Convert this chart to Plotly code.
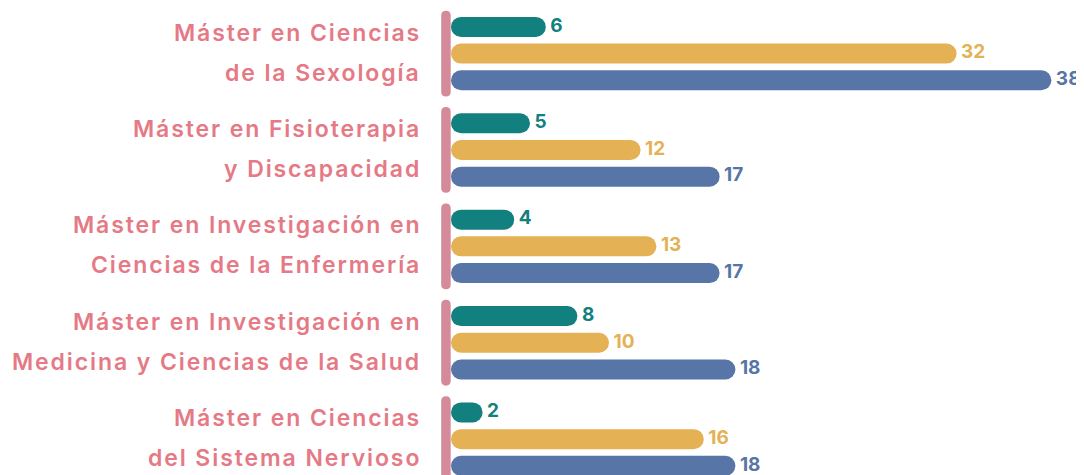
import plotly.graph_objects as go

# ---- data ----
cat_line1 = ["Máster en Ciencias", "Máster en Fisioterapia", "Máster en Investigación en",
             "Máster en Investigación en", "Máster en Ciencias"]
cat_line2 = ["de la Sexología", "y Discapacidad", "Ciencias de la Enfermería",
             "Medicina y Ciencias de la Salud", "del Sistema Nervioso"]
series_names = ["Serie 1", "Serie 2", "Serie 3"]
teal_vals = [6, 5, 4, 8, 2]
yellow_vals = [32, 12, 13, 10, 16]
blue_vals = [38, 17, 17, 18, 18]

colors = ["#12807E", "#E4B155", "#5775A6"]
label_color = "#E57A86"
sep_color = "#D48A98"
FONT = "Inter"

ypos = list(range(len(cat_line1)))
step = 0.277          # distance between bars in a group (y units)
bw = 0.2075           # bar thickness (y units)
centers = [-step, 0.0, step]

fig = go.Figure()
for vals, name, col, c in zip([teal_vals, yellow_vals, blue_vals], series_names, colors, centers):
    fig.add_trace(go.Bar(
        orientation="h", x=vals, y=ypos, base=0,
        offset=c - bw / 2, width=bw, name=name,
        marker=dict(color=col, cornerradius="50%", line=dict(width=0)),
        showlegend=False, hoverinfo="skip"))
    fig.add_trace(go.Scatter(
        x=vals, y=[p + c for p in ypos], mode="text",
        text=[f" {v}" for v in vals], textposition="middle right",
        textfont=dict(color=col, size=19, family=FONT, weight="bold"),
        cliponaxis=False, showlegend=False, hoverinfo="skip"))

# separators (rounded pill) left of each group
x0, x1 = -0.62, -0.02
xc = (x0 + x1) / 2
half = 0.445
ry = 0.05
shapes = []
for p in ypos:
    yt, yb = p - half, p + half
    path = (f"M {x0},{yt+ry} Q {x0},{yt} {xc},{yt} Q {x1},{yt} {x1},{yt+ry} "
            f"L {x1},{yb-ry} Q {x1},{yb} {xc},{yb} Q {x0},{yb} {x0},{yb-ry} Z")
    shapes.append(dict(type="path", path=path, xref="x", yref="y",
                       fillcolor=sep_color, line=dict(width=0), layer="above"))

annotations = []
for p, l1, l2 in zip(ypos, cat_line1, cat_line2):
    for txt, sh in ((l1, 21), (l2, -19)):
        annotations.append(dict(
            x=0, xref="paper", y=p, yref="y", xanchor="right", yanchor="middle",
            xshift=-17, yshift=sh,
            text=f'<span style="letter-spacing:1.9px">{txt}</span>',
            showarrow=False, align="right",
            font=dict(color=label_color, size=23, family=FONT, weight=600)))

fig.update_layout(
    width=1084, height=475,
    margin=dict(l=432, r=0, t=0, b=0),
    barmode="overlay",
    paper_bgcolor="white", plot_bgcolor="white",
    shapes=shapes, annotations=annotations,
    xaxis=dict(visible=False, range=[-0.696, 40.57], fixedrange=True),
    yaxis=dict(visible=False, range=[4.455, -0.473], fixedrange=True),
)

fig.write_html(
    "out.html",
    post_script="document.documentElement.style.overflow='hidden';"
                "document.body.style.overflow='hidden';",
)
